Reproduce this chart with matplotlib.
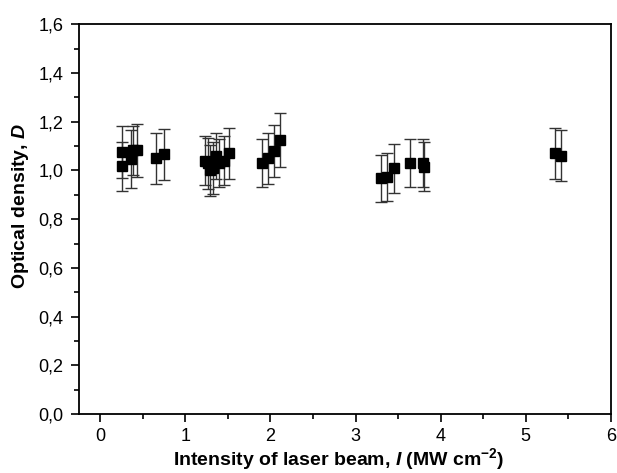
import matplotlib
matplotlib.use("Agg")
import matplotlib.pyplot as plt
from matplotlib.ticker import FuncFormatter, MultipleLocator

plt.rcParams["font.family"] = ["Liberation Sans", "DejaVu Sans"]
plt.rcParams["mathtext.fontset"] = "custom"
plt.rcParams["mathtext.rm"] = "Liberation Sans:bold"
plt.rcParams["mathtext.it"] = "Liberation Sans:italic:bold"
plt.rcParams["mathtext.bf"] = "Liberation Sans:bold"

# intensity I (MW cm^-2), optical density D, error
intensity = [0.25, 0.25, 0.36, 0.38, 0.43, 0.66, 0.75,
             1.23, 1.27, 1.29, 1.33, 1.36, 1.40, 1.46, 1.51,
             1.90, 1.97, 2.04, 2.11,
             3.30, 3.37, 3.45, 3.64, 3.79, 3.80,
             5.34, 5.42]
density = [1.075, 1.017, 1.046, 1.083, 1.083, 1.050, 1.067,
           1.040, 1.030, 1.000, 1.010, 1.060, 1.030, 1.040, 1.070,
           1.030, 1.050, 1.079, 1.124,
           0.968, 0.972, 1.009, 1.030, 1.030, 1.015,
           1.070, 1.060]
error = [0.107, 0.100, 0.12, 0.10, 0.108, 0.105, 0.105,
         0.10, 0.105, 0.105, 0.105, 0.095, 0.10, 0.10, 0.105,
         0.10, 0.105, 0.108, 0.11,
         0.097, 0.098, 0.10, 0.10, 0.10, 0.10,
         0.105, 0.105]

fig = plt.figure(figsize=(6.17, 4.73), dpi=100)
ax = fig.add_axes([0.128, 0.1247, 0.862, 0.824])

ax.errorbar(intensity, density, yerr=error, fmt="s", color="black",
            ecolor="#333333", elinewidth=1.0, capsize=4, capthick=1.0,
            markersize=7.5)

ax.set_xlim(-0.25, 6)
ax.set_ylim(0, 1.6)
ax.xaxis.set_major_locator(MultipleLocator(1))
ax.xaxis.set_minor_locator(MultipleLocator(0.5))
ax.yaxis.set_major_locator(MultipleLocator(0.2))
ax.yaxis.set_minor_locator(MultipleLocator(0.1))
ax.yaxis.set_major_formatter(FuncFormatter(lambda v, p: f"{v:.1f}".replace(".", ",")))

ax.tick_params(which="both", direction="out", top=False, right=False,
               width=1.2, labelsize=13, pad=5)
ax.tick_params(axis="x", which="major", pad=4)
ax.tick_params(which="major", length=6)
ax.tick_params(which="minor", length=3.5)
for spine in ax.spines.values():
    spine.set_linewidth(1.3)

ax.set_xlabel(r"Intensity of laser beam, $\mathit{I}$ (MW cm$^{\mathbf{-2}}$)",
              fontsize=14, fontweight="bold")
ax.xaxis.set_label_coords(0.489, -0.082)
ax.set_ylabel(r"Optical density, $\mathit{D}$", fontsize=14, fontweight="bold")
ax.yaxis.set_label_coords(-0.09, 0.533)

fig.savefig("out.png", dpi=100)
